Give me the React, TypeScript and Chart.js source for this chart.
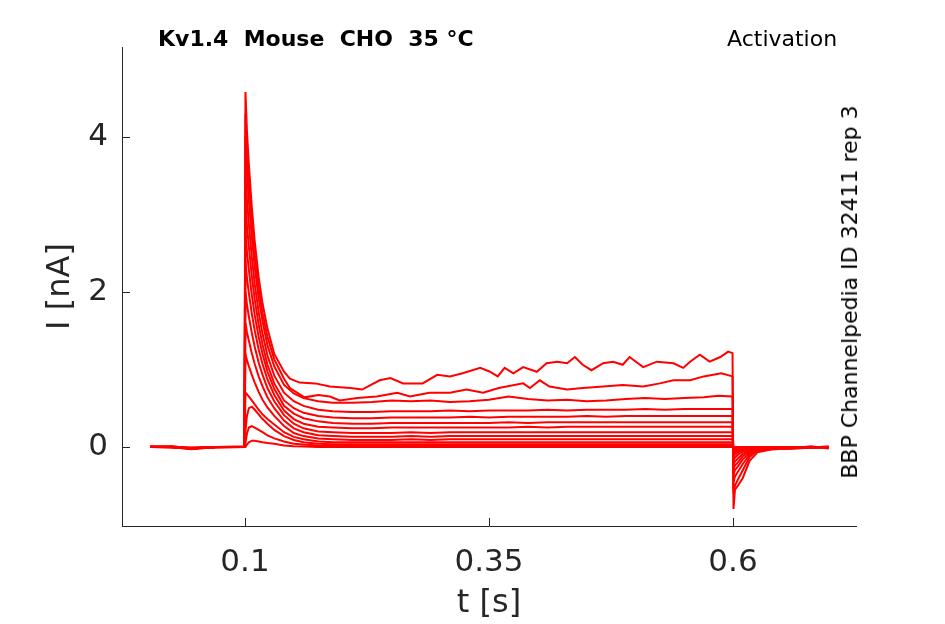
import { useEffect, useRef } from "react"
import { Chart, ChartConfiguration, Plugin, registerables } from "chart.js"

Chart.register(...registerables)

// sample times [s] shared by the smaller steps: dense around the step on/off edges
const timeSec = [
  0.003, 0.025, 0.045, 0.07, 0.0995,
  0.1005, 0.102, 0.104, 0.107, 0.11, 0.114, 0.118, 0.123, 0.13, 0.14, 0.15, 0.16, 0.175, 0.19,
  0.21, 0.23, 0.25, 0.27, 0.29, 0.31, 0.33, 0.35, 0.37, 0.39, 0.41, 0.43, 0.45, 0.47, 0.49, 0.51, 0.53, 0.55, 0.57, 0.585, 0.5995,
  0.6005, 0.602, 0.605, 0.61, 0.617, 0.625, 0.64, 0.66, 0.68, 0.698,
]

// the two largest steps are noisy, so they get their own finer sampling
const step1Time = [
  0.003, 0.025, 0.045, 0.07, 0.0995,
  0.1005, 0.102, 0.104, 0.107, 0.11, 0.114, 0.118, 0.123, 0.13, 0.14,
  0.146, 0.156, 0.172, 0.187, 0.208, 0.22, 0.238, 0.249, 0.262, 0.282,
  0.297, 0.31, 0.323, 0.341, 0.351, 0.359, 0.366, 0.375, 0.385, 0.399,
  0.409, 0.42, 0.43, 0.438, 0.446, 0.455, 0.467, 0.477, 0.487, 0.494,
  0.508, 0.522, 0.539, 0.549, 0.556, 0.566, 0.576, 0.587, 0.595, 0.5995,
  0.6005, 0.602, 0.605, 0.61, 0.617, 0.625, 0.64, 0.66, 0.68, 0.698,
]
const step1 = [
  0.01, 0.0, -0.03, 0.0, 0.0,
  4.58, 4.08, 3.64, 3.09, 2.65, 2.19, 1.85, 1.53, 1.2, 0.97,
  0.88, 0.83, 0.82, 0.78, 0.76, 0.74, 0.86, 0.89, 0.82, 0.82,
  0.93, 0.91, 0.95, 1.02, 0.97, 0.91, 1.02, 0.95, 1.03, 0.97,
  1.08, 1.1, 1.08, 1.16, 1.06, 0.99, 1.08, 1.1, 1.06, 1.16,
  1.03, 1.1, 1.08, 1.02, 1.1, 1.19, 1.1, 1.16, 1.23, 1.21,
  -0.8, -0.55, -0.5, -0.4, -0.18, -0.07, -0.03, -0.02, 0.01, -0.02,
]

const step2Time = [
  0.003, 0.025, 0.045, 0.07, 0.0995,
  0.1005, 0.102, 0.104, 0.107, 0.11, 0.114, 0.118, 0.123, 0.13, 0.14,
  0.146, 0.161, 0.175, 0.187, 0.197, 0.215, 0.235, 0.256, 0.269, 0.289,
  0.31, 0.327, 0.344, 0.36, 0.385, 0.392, 0.402, 0.412, 0.43, 0.446,
  0.467, 0.487, 0.508, 0.525, 0.539, 0.556, 0.57, 0.588, 0.5995,
  0.6005, 0.602, 0.605, 0.61, 0.617, 0.625, 0.64, 0.66, 0.68, 0.698,
]
const step2 = [
  0.0, 0.01, -0.02, 0.0, 0.01,
  4.3, 3.82, 3.4, 2.9, 2.48, 2.05, 1.73, 1.42, 1.13, 0.88,
  0.76, 0.64, 0.67, 0.65, 0.6, 0.63, 0.65, 0.7, 0.65, 0.7,
  0.7, 0.74, 0.7, 0.76, 0.82, 0.76, 0.86, 0.78, 0.74, 0.76,
  0.78, 0.8, 0.78, 0.82, 0.86, 0.86, 0.91, 0.95, 0.91,
  -0.6, -0.5, -0.42, -0.3, -0.13, -0.05, -0.03, -0.02, -0.01, -0.01,
]

// current [nA] for the remaining steps, sampled at timeSec
const step3 = [
  0.0, -0.01, -0.02, 0.0, 0.0,
  4.0, 3.55, 3.17, 2.7, 2.32, 1.92, 1.62, 1.31, 1.04, 0.8, 0.69, 0.63, 0.59, 0.57,
  0.57, 0.58, 0.6, 0.59, 0.6, 0.58, 0.59, 0.61, 0.65, 0.62, 0.6, 0.61, 0.59, 0.6, 0.62, 0.63, 0.62, 0.63, 0.64, 0.66, 0.65,
  -0.45, -0.38, -0.32, -0.22, -0.1, -0.05, -0.02, -0.02, -0.01, -0.01,
]
const step4 = [
  0.0, 0.0, -0.02, -0.01, 0.0,
  3.6, 3.2, 2.87, 2.45, 2.1, 1.74, 1.46, 1.18, 0.92, 0.7, 0.59, 0.53, 0.48, 0.46,
  0.45, 0.45, 0.46, 0.46, 0.46, 0.47, 0.46, 0.47, 0.47, 0.47, 0.48, 0.47, 0.48, 0.48, 0.48, 0.49, 0.48, 0.49, 0.49, 0.49, 0.49,
  -0.35, -0.3, -0.25, -0.16, -0.08, -0.04, -0.02, -0.01, -0.01, 0.01,
]
const step5 = [
  0.01, 0.0, -0.02, 0.0, 0.0,
  3.2, 2.86, 2.58, 2.2, 1.9, 1.58, 1.32, 1.06, 0.82, 0.6, 0.5, 0.44, 0.4, 0.38,
  0.37, 0.37, 0.38, 0.38, 0.38, 0.38, 0.39, 0.38, 0.39, 0.39, 0.39, 0.39, 0.4, 0.39, 0.4, 0.4, 0.4, 0.4, 0.4, 0.4, 0.4,
  -0.28, -0.24, -0.2, -0.12, -0.06, -0.03, -0.02, -0.01, 0.0, -0.01,
]
const step6 = [
  0.0, 0.0, -0.01, 0.0, 0.0,
  2.8, 2.52, 2.28, 1.96, 1.7, 1.42, 1.2, 0.97, 0.75, 0.53, 0.43, 0.37, 0.33, 0.31,
  0.3, 0.3, 0.31, 0.31, 0.31, 0.31, 0.31, 0.31, 0.32, 0.31, 0.32, 0.32, 0.32, 0.32, 0.32, 0.32, 0.32, 0.32, 0.32, 0.32, 0.32,
  -0.22, -0.19, -0.15, -0.09, -0.05, -0.03, -0.01, -0.01, 0.0, 0.0,
]
const step7 = [
  0.0, 0.01, -0.02, 0.0, 0.0,
  2.4, 2.18, 1.98, 1.72, 1.5, 1.26, 1.07, 0.87, 0.67, 0.47, 0.36, 0.3, 0.26, 0.25,
  0.24, 0.24, 0.25, 0.25, 0.25, 0.25, 0.25, 0.25, 0.25, 0.26, 0.25, 0.26, 0.26, 0.26, 0.26, 0.26, 0.26, 0.26, 0.26, 0.26, 0.26,
  -0.17, -0.14, -0.1, -0.06, -0.04, -0.02, -0.01, 0.0, 0.0, 0.0,
]
const step8 = [
  0.0, 0.0, -0.02, 0.0, 0.0,
  2.0, 1.84, 1.68, 1.47, 1.29, 1.09, 0.93, 0.76, 0.59, 0.41, 0.3, 0.24, 0.2, 0.19,
  0.18, 0.18, 0.18, 0.19, 0.18, 0.19, 0.19, 0.19, 0.19, 0.19, 0.19, 0.19, 0.19, 0.19, 0.19, 0.19, 0.19, 0.19, 0.19, 0.19, 0.19,
  -0.12, -0.1, -0.07, -0.04, -0.03, -0.02, -0.01, 0.0, 0.0, 0.0,
]
const step9 = [
  0.0, 0.0, -0.01, 0.0, 0.0,
  1.6, 1.48, 1.37, 1.21, 1.07, 0.91, 0.78, 0.64, 0.5, 0.34, 0.24, 0.19, 0.15, 0.14,
  0.13, 0.13, 0.13, 0.14, 0.13, 0.14, 0.14, 0.14, 0.14, 0.14, 0.14, 0.14, 0.14, 0.14, 0.14, 0.14, 0.14, 0.14, 0.14, 0.14, 0.14,
  -0.08, -0.07, -0.05, -0.03, -0.02, -0.01, 0.0, 0.0, 0.0, 0.0,
]
const step10 = [
  0.0, 0.0, -0.02, 0.0, 0.0,
  1.2, 1.12, 1.04, 0.93, 0.83, 0.71, 0.61, 0.51, 0.4, 0.27, 0.18, 0.14, 0.11, 0.1,
  0.09, 0.09, 0.09, 0.1, 0.09, 0.1, 0.1, 0.1, 0.1, 0.1, 0.1, 0.1, 0.1, 0.1, 0.1, 0.1, 0.1, 0.1, 0.1, 0.1, 0.1,
  -0.06, -0.05, -0.03, -0.02, -0.01, -0.01, 0.0, 0.0, 0.0, 0.0,
]
const step11 = [
  0.0, 0.0, -0.02, 0.0, 0.0,
  0.7, 0.68, 0.65, 0.6, 0.55, 0.48, 0.42, 0.36, 0.29, 0.19, 0.13, 0.1, 0.07, 0.06,
  0.06, 0.06, 0.06, 0.06, 0.06, 0.06, 0.06, 0.06, 0.06, 0.06, 0.06, 0.06, 0.06, 0.06, 0.06, 0.06, 0.06, 0.06, 0.06, 0.06, 0.06,
  -0.04, -0.03, -0.02, -0.01, -0.01, 0.0, 0.0, 0.0, 0.0, 0.0,
]
const step12 = [
  0.0, 0.0, -0.02, 0.0, 0.0,
  0.2, 0.4, 0.5, 0.52, 0.48, 0.42, 0.36, 0.3, 0.22, 0.14, 0.09, 0.06, 0.04, 0.035,
  0.035, 0.035, 0.035, 0.035, 0.035, 0.035, 0.035, 0.035, 0.035, 0.035, 0.035, 0.035, 0.035, 0.035, 0.035, 0.035, 0.035, 0.035, 0.035, 0.035, 0.035,
  -0.02, -0.02, -0.01, -0.01, 0.0, 0.0, 0.0, 0.0, 0.0, 0.0,
]
const step13 = [
  0.0, 0.0, -0.01, 0.0, 0.0,
  0.05, 0.17, 0.25, 0.27, 0.25, 0.22, 0.19, 0.15, 0.11, 0.07, 0.04, 0.03, 0.02, 0.015,
  0.015, 0.015, 0.015, 0.015, 0.015, 0.015, 0.015, 0.015, 0.015, 0.015, 0.015, 0.015, 0.015, 0.015, 0.015, 0.015, 0.015, 0.015, 0.015, 0.015, 0.015,
  -0.01, -0.01, 0.0, 0.0, 0.0, 0.0, 0.0, 0.0, 0.0, 0.0,
]
const step14 = [
  0.0, 0.0, -0.02, 0.0, 0.0,
  0.0, 0.03, 0.06, 0.08, 0.08, 0.07, 0.06, 0.05, 0.04, 0.02, 0.01, 0.005, 0.0, 0.0,
  0.0, 0.0, 0.0, 0.0, 0.0, 0.0, 0.0, 0.0, 0.0, 0.0, 0.0, 0.0, 0.0, 0.0, 0.0, 0.0, 0.0, 0.0, 0.0, 0.0, 0.0,
  0.0, 0.0, 0.0, 0.0, 0.0, 0.0, 0.0, 0.0, 0.0, 0.0,
]

const traces: Array<[number[], number[]]> = [
  [step1Time, step1],
  [step2Time, step2],
  [timeSec, step3],
  [timeSec, step4],
  [timeSec, step5],
  [timeSec, step6],
  [timeSec, step7],
  [timeSec, step8],
  [timeSec, step9],
  [timeSec, step10],
  [timeSec, step11],
  [timeSec, step12],
  [timeSec, step13],
  [timeSec, step14],
]

const xTicks = [0.1, 0.35, 0.6]
const yTicks = [0, 2, 4]

const AXIS = "#262626"
const FONT = "'DejaVu Sans', sans-serif"

// matlab-style ticks pointing into the plot
const inwardTicks: Plugin = {
  id: "inwardTicks",
  afterDraw(chart) {
    const { ctx, chartArea, scales } = chart
    ctx.save()
    ctx.strokeStyle = AXIS
    ctx.lineWidth = 1
    scales.x.ticks.forEach((t) => {
      const px = Math.round(scales.x.getPixelForValue(t.value)) + 0.5
      ctx.beginPath()
      ctx.moveTo(px, chartArea.bottom)
      ctx.lineTo(px, chartArea.bottom - 8)
      ctx.stroke()
    })
    scales.y.ticks.forEach((t) => {
      const py = Math.round(scales.y.getPixelForValue(t.value)) + 0.5
      ctx.beginPath()
      ctx.moveTo(chartArea.left, py)
      ctx.lineTo(chartArea.left + 8, py)
      ctx.stroke()
    })
    ctx.restore()
  },
}

export default function App() {
  const canvasRef = useRef<HTMLCanvasElement>(null)

  useEffect(() => {
    if (!canvasRef.current) return
    const ctx = canvasRef.current.getContext("2d")
    if (!ctx) return

    const config: ChartConfiguration<"line"> = {
      type: "line",
      data: {
        datasets: traces.map(([ts, vs], i) => ({
          label: `step ${i + 1}`,
          data: vs.map((v, j) => ({ x: ts[j], y: v })),
          borderColor: "#ff0000",
          borderWidth: 2,
          pointRadius: 0,
          tension: 0,
          fill: false,
        })),
      },
      options: {
        responsive: false,
        animation: false,
        layout: { padding: { top: 47, right: 89, left: 0, bottom: 0 } },
        plugins: {
          legend: { display: false },
          tooltip: { enabled: false },
        },
        scales: {
          x: {
            type: "linear",
            min: -0.026,
            max: 0.726,
            afterBuildTicks: (scale) => {
              scale.ticks = xTicks.map((v) => ({ value: v }))
            },
            afterFit: (scale) => {
              scale.height = 98
            },
            grid: { display: false, drawTicks: false },
            border: { display: true, color: AXIS, width: 1 },
            ticks: {
              color: AXIS,
              padding: 18,
              maxRotation: 0,
              font: { family: FONT, size: 31 },
              callback: (v) => String(v),
            },
            title: {
              display: true,
              text: "t [s]",
              color: AXIS,
              font: { family: FONT, size: 32 },
              padding: { top: 0, bottom: 1 },
            },
          },
          y: {
            type: "linear",
            min: -1.02,
            max: 5.16,
            afterBuildTicks: (scale) => {
              scale.ticks = yTicks.map((v) => ({ value: v }))
            },
            afterFit: (scale) => {
              scale.width = 122
            },
            grid: { display: false, drawTicks: false },
            border: { display: true, color: AXIS, width: 1 },
            ticks: {
              color: AXIS,
              padding: 14,
              font: { family: FONT, size: 31 },
              callback: (v) => String(v),
            },
            title: {
              display: true,
              text: "I [nA]",
              color: AXIS,
              font: { family: FONT, size: 32 },
              padding: { top: 41, bottom: 0 },
            },
          },
        },
      },
      plugins: [inwardTicks],
    }

    const chart = new Chart(ctx, config)
    return () => {
      chart.destroy()
    }
  }, [])

  return (
    <div
      style={{
        position: "absolute",
        left: 0,
        top: 0,
        width: 945,
        height: 624,
        background: "#ffffff",
        fontFamily: FONT,
        color: "#000000",
      }}
    >
      <canvas ref={canvasRef} width={945} height={624} style={{ display: "block" }} />
      <div
        style={{
          position: "absolute",
          left: 158,
          top: 28,
          fontSize: 22,
          lineHeight: "22px",
          fontWeight: "bold",
          whiteSpace: "pre",
        }}
      >
        {"Kv1.4  Mouse  CHO  35 °C"}
      </div>
      <div
        style={{
          position: "absolute",
          left: 727,
          top: 28,
          fontSize: 22,
          lineHeight: "22px",
          whiteSpace: "pre",
        }}
      >
        Activation
      </div>
      <div
        style={{
          position: "absolute",
          left: 850,
          top: 291.5,
          fontSize: 22,
          lineHeight: "22px",
          whiteSpace: "nowrap",
          transform: "translate(-50%, -50%) rotate(-90deg)",
        }}
      >
        BBP Channelpedia ID 32411 rep 3
      </div>
    </div>
  )
}
